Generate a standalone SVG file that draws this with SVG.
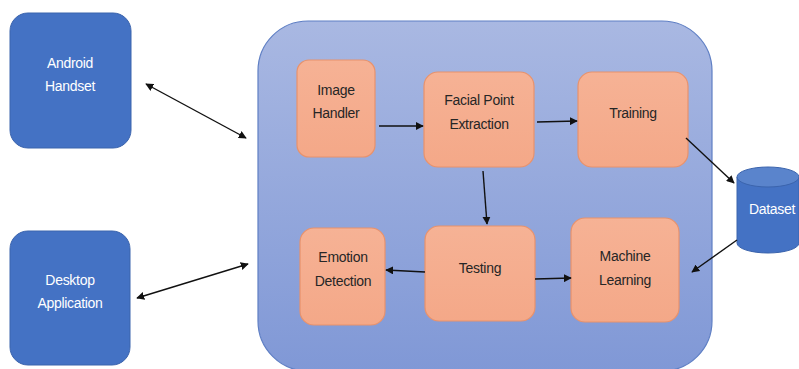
<svg xmlns="http://www.w3.org/2000/svg" width="799" height="369" viewBox="0 0 799 369">
  <defs>
    <linearGradient id="gContainer" x1="0" y1="0" x2="0" y2="1">
      <stop offset="0" stop-color="#a9b8e2"/>
      <stop offset="1" stop-color="#8098d6"/>
    </linearGradient>
    <linearGradient id="gOrange" x1="0" y1="0" x2="0" y2="1">
      <stop offset="0" stop-color="#f6b295"/>
      <stop offset="1" stop-color="#f4a888"/>
    </linearGradient>
    <marker id="arrow" viewBox="0 0 10 10" refX="9" refY="5" markerWidth="8" markerHeight="8" markerUnits="userSpaceOnUse" orient="auto-start-reverse">
      <path d="M0,0 L10,5 L0,10 z" fill="#111"/>
    </marker>
  </defs>
  <style>
    .blue { fill: #4472c4; stroke: #3b64ad; stroke-width: 1; }
    .proc { fill: url(#gOrange); stroke: #e8926c; stroke-width: 1.2; }
    .lblW { font-family: "Liberation Sans", Arial, sans-serif; font-size: 14px; letter-spacing: -0.3px; fill: #ffffff; text-anchor: middle; }
    .lblD { font-family: "Liberation Sans", Arial, sans-serif; font-size: 14px; letter-spacing: -0.3px; fill: #262626; text-anchor: middle; }
    .conn { stroke: #111; stroke-width: 1.4; fill: none; }
  </style>
  <rect width="799" height="369" fill="#ffffff"/>

  <!-- outer system panel -->
  <g id="system">
    <rect x="258" y="21" width="454" height="350" rx="50" ry="50" fill="url(#gContainer)" stroke="#5f7fc4" stroke-width="1.2"/>
  </g>

  <g id="android">
    <rect class="blue" x="10" y="13" width="121" height="135" rx="18"/>
    <text class="lblW" x="70" y="68">Android</text>
    <text class="lblW" x="70" y="91">Handset</text>
  </g>

  <g id="desktop">
    <rect class="blue" x="10" y="231" width="120" height="134" rx="18"/>
    <text class="lblW" x="70" y="285">Desktop</text>
    <text class="lblW" x="70" y="308">Application</text>
  </g>

  <g id="image-handler">
    <rect class="proc" x="297" y="60" width="78" height="97" rx="12"/>
    <text class="lblD" x="336" y="95">Image</text>
    <text class="lblD" x="336" y="118">Handler</text>
  </g>

  <g id="facial-point">
    <rect class="proc" x="424" y="72" width="110" height="95" rx="14"/>
    <text class="lblD" x="479" y="105">Facial Point</text>
    <text class="lblD" x="479" y="129">Extraction</text>
  </g>

  <g id="training">
    <rect class="proc" x="578" y="72" width="110" height="95" rx="14"/>
    <text class="lblD" x="633" y="118">Training</text>
  </g>

  <g id="emotion">
    <rect class="proc" x="300" y="228" width="85" height="97" rx="14"/>
    <text class="lblD" x="343" y="262">Emotion</text>
    <text class="lblD" x="343" y="286">Detection</text>
  </g>

  <g id="testing">
    <rect class="proc" x="425" y="226" width="110" height="95" rx="14"/>
    <text class="lblD" x="480" y="273">Testing</text>
  </g>

  <g id="ml">
    <rect class="proc" x="571" y="218" width="108" height="104" rx="14"/>
    <text class="lblD" x="625" y="261">Machine</text>
    <text class="lblD" x="625" y="285">Learning</text>
  </g>

  <g id="dataset">
    <path class="blue" d="M737,177 L737,243 A31,10 0 0 0 799,243 L799,177"/>
    <ellipse cx="768" cy="177" rx="31" ry="10" fill="#5a84cc" stroke="#3b64ad" stroke-width="1"/>
    <text class="lblW" x="772" y="214">Dataset</text>
  </g>

  <g id="connectors">
    <line class="conn" x1="146" y1="84" x2="246" y2="138" marker-start="url(#arrow)" marker-end="url(#arrow)"/>
    <line class="conn" x1="137" y1="298" x2="248" y2="264" marker-start="url(#arrow)" marker-end="url(#arrow)"/>
    <line class="conn" x1="379" y1="126" x2="423" y2="126" marker-end="url(#arrow)"/>
    <line class="conn" x1="537" y1="122" x2="577" y2="121" marker-end="url(#arrow)"/>
    <line class="conn" x1="483" y1="171" x2="487" y2="224" marker-end="url(#arrow)"/>
    <line class="conn" x1="425" y1="272" x2="386" y2="270" marker-end="url(#arrow)"/>
    <line class="conn" x1="535" y1="279" x2="571" y2="278" marker-end="url(#arrow)"/>
    <line class="conn" x1="686" y1="138" x2="734" y2="183" marker-end="url(#arrow)"/>
    <line class="conn" x1="737" y1="240" x2="692" y2="272" marker-end="url(#arrow)"/>
  </g>
</svg>
